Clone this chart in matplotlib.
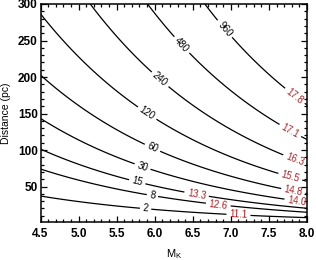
import numpy as np
import matplotlib
matplotlib.use("Agg")
import matplotlib.pyplot as plt
from matplotlib.ticker import MultipleLocator

# ---- data ----
levels = [2, 8, 15, 30, 60, 120, 240, 480, 960]
level_labels = ["2", "8", "15", "30", "60", "120", "240", "480", "960"]
mag_labels = ["11.1", "12.6", "13.3", "14.0", "14.8", "15.5", "16.3", "17.1", "17.8"]
# reference point: level 2 at M_K = 4.5, distance 37 pc (field scales with flux)
ref_level = 2.0
ref_mk = 4.5
ref_dist = 37.0
# M_K positions where labels sit
black_label_mk = [5.88, 5.97, 5.77, 5.84, 5.97, 5.90, 6.07, 6.355, 6.92]
red_label_mk = [7.10, 6.835, 6.55, 7.865, 7.82, 7.78, 7.84, 7.78, 7.84]

xlim = (4.5, 8.0)
ylim = (1, 300)

plt.rcParams['font.family'] = ['Liberation Sans', 'DejaVu Sans']
plt.rcParams['mathtext.fontset'] = 'custom'
plt.rcParams['mathtext.rm'] = 'Liberation Sans'
plt.rcParams['mathtext.it'] = 'Liberation Sans'

fig = plt.figure(figsize=(3.16, 2.60), dpi=100)
ax = fig.add_axes([40.5/316, 1 - 222.3/260, (307 - 40.5)/316, (222.3 - 4)/260])

mk = np.linspace(xlim[0], xlim[1], 400)
dist = np.linspace(ylim[0], ylim[1], 600)
MK, D = np.meshgrid(mk, dist)
Z = ref_level * (D / ref_dist) ** 2 * 10 ** (0.4 * (MK - ref_mk))

cs = ax.contour(MK, D, Z, levels=levels, colors='black', linewidths=0.9)

def dist_on_level(lev, m):
    return ref_dist * np.sqrt(lev / ref_level) * 10 ** (-0.2 * (m - ref_mk))

black_pos = [(m, dist_on_level(l, m)) for l, m in zip(levels, black_label_mk)]
red_pos = [(m, dist_on_level(l, m)) for l, m in zip(levels, red_label_mk)]

ax.clabel(cs, levels=levels, fmt=dict(zip(levels, level_labels)), manual=black_pos,
          inline=True, inline_spacing=3, fontsize=7, colors='black')
ax.clabel(cs, levels=levels, fmt=dict(zip(levels, mag_labels)), manual=red_pos,
          inline=True, inline_spacing=3, fontsize=7, colors='#a8262a')

ax.set_xlim(*xlim)
ax.set_ylim(*ylim)
ax.xaxis.set_major_locator(MultipleLocator(0.5))
ax.xaxis.set_minor_locator(MultipleLocator(0.1))
ax.yaxis.set_minor_locator(MultipleLocator(10))
ax.set_yticks([50, 100, 150, 200, 250, 300])
ax.xaxis.set_major_formatter(matplotlib.ticker.FormatStrFormatter('%.1f'))
ax.tick_params(which='both', direction='in', top=True, right=True, labelsize=8.5, width=0.9)
ax.tick_params(which='major', length=4.5)
ax.tick_params(which='minor', length=2.2)
ax.tick_params(axis='x', pad=4)
ax.tick_params(axis='y', pad=2)
for lab in ax.get_xticklabels() + ax.get_yticklabels():
    lab.set_fontweight('bold')
for s in ax.spines.values():
    s.set_linewidth(1.1)

ax.set_xlabel(r'M$_\mathregular{K}$', fontsize=8)
ax.xaxis.set_label_coords(0.5, -0.115)
ax.set_ylabel('Distance (pc)', fontsize=7.5)
ax.yaxis.set_label_coords(-0.112, 0.5)

fig.savefig('out.png', dpi=100)
